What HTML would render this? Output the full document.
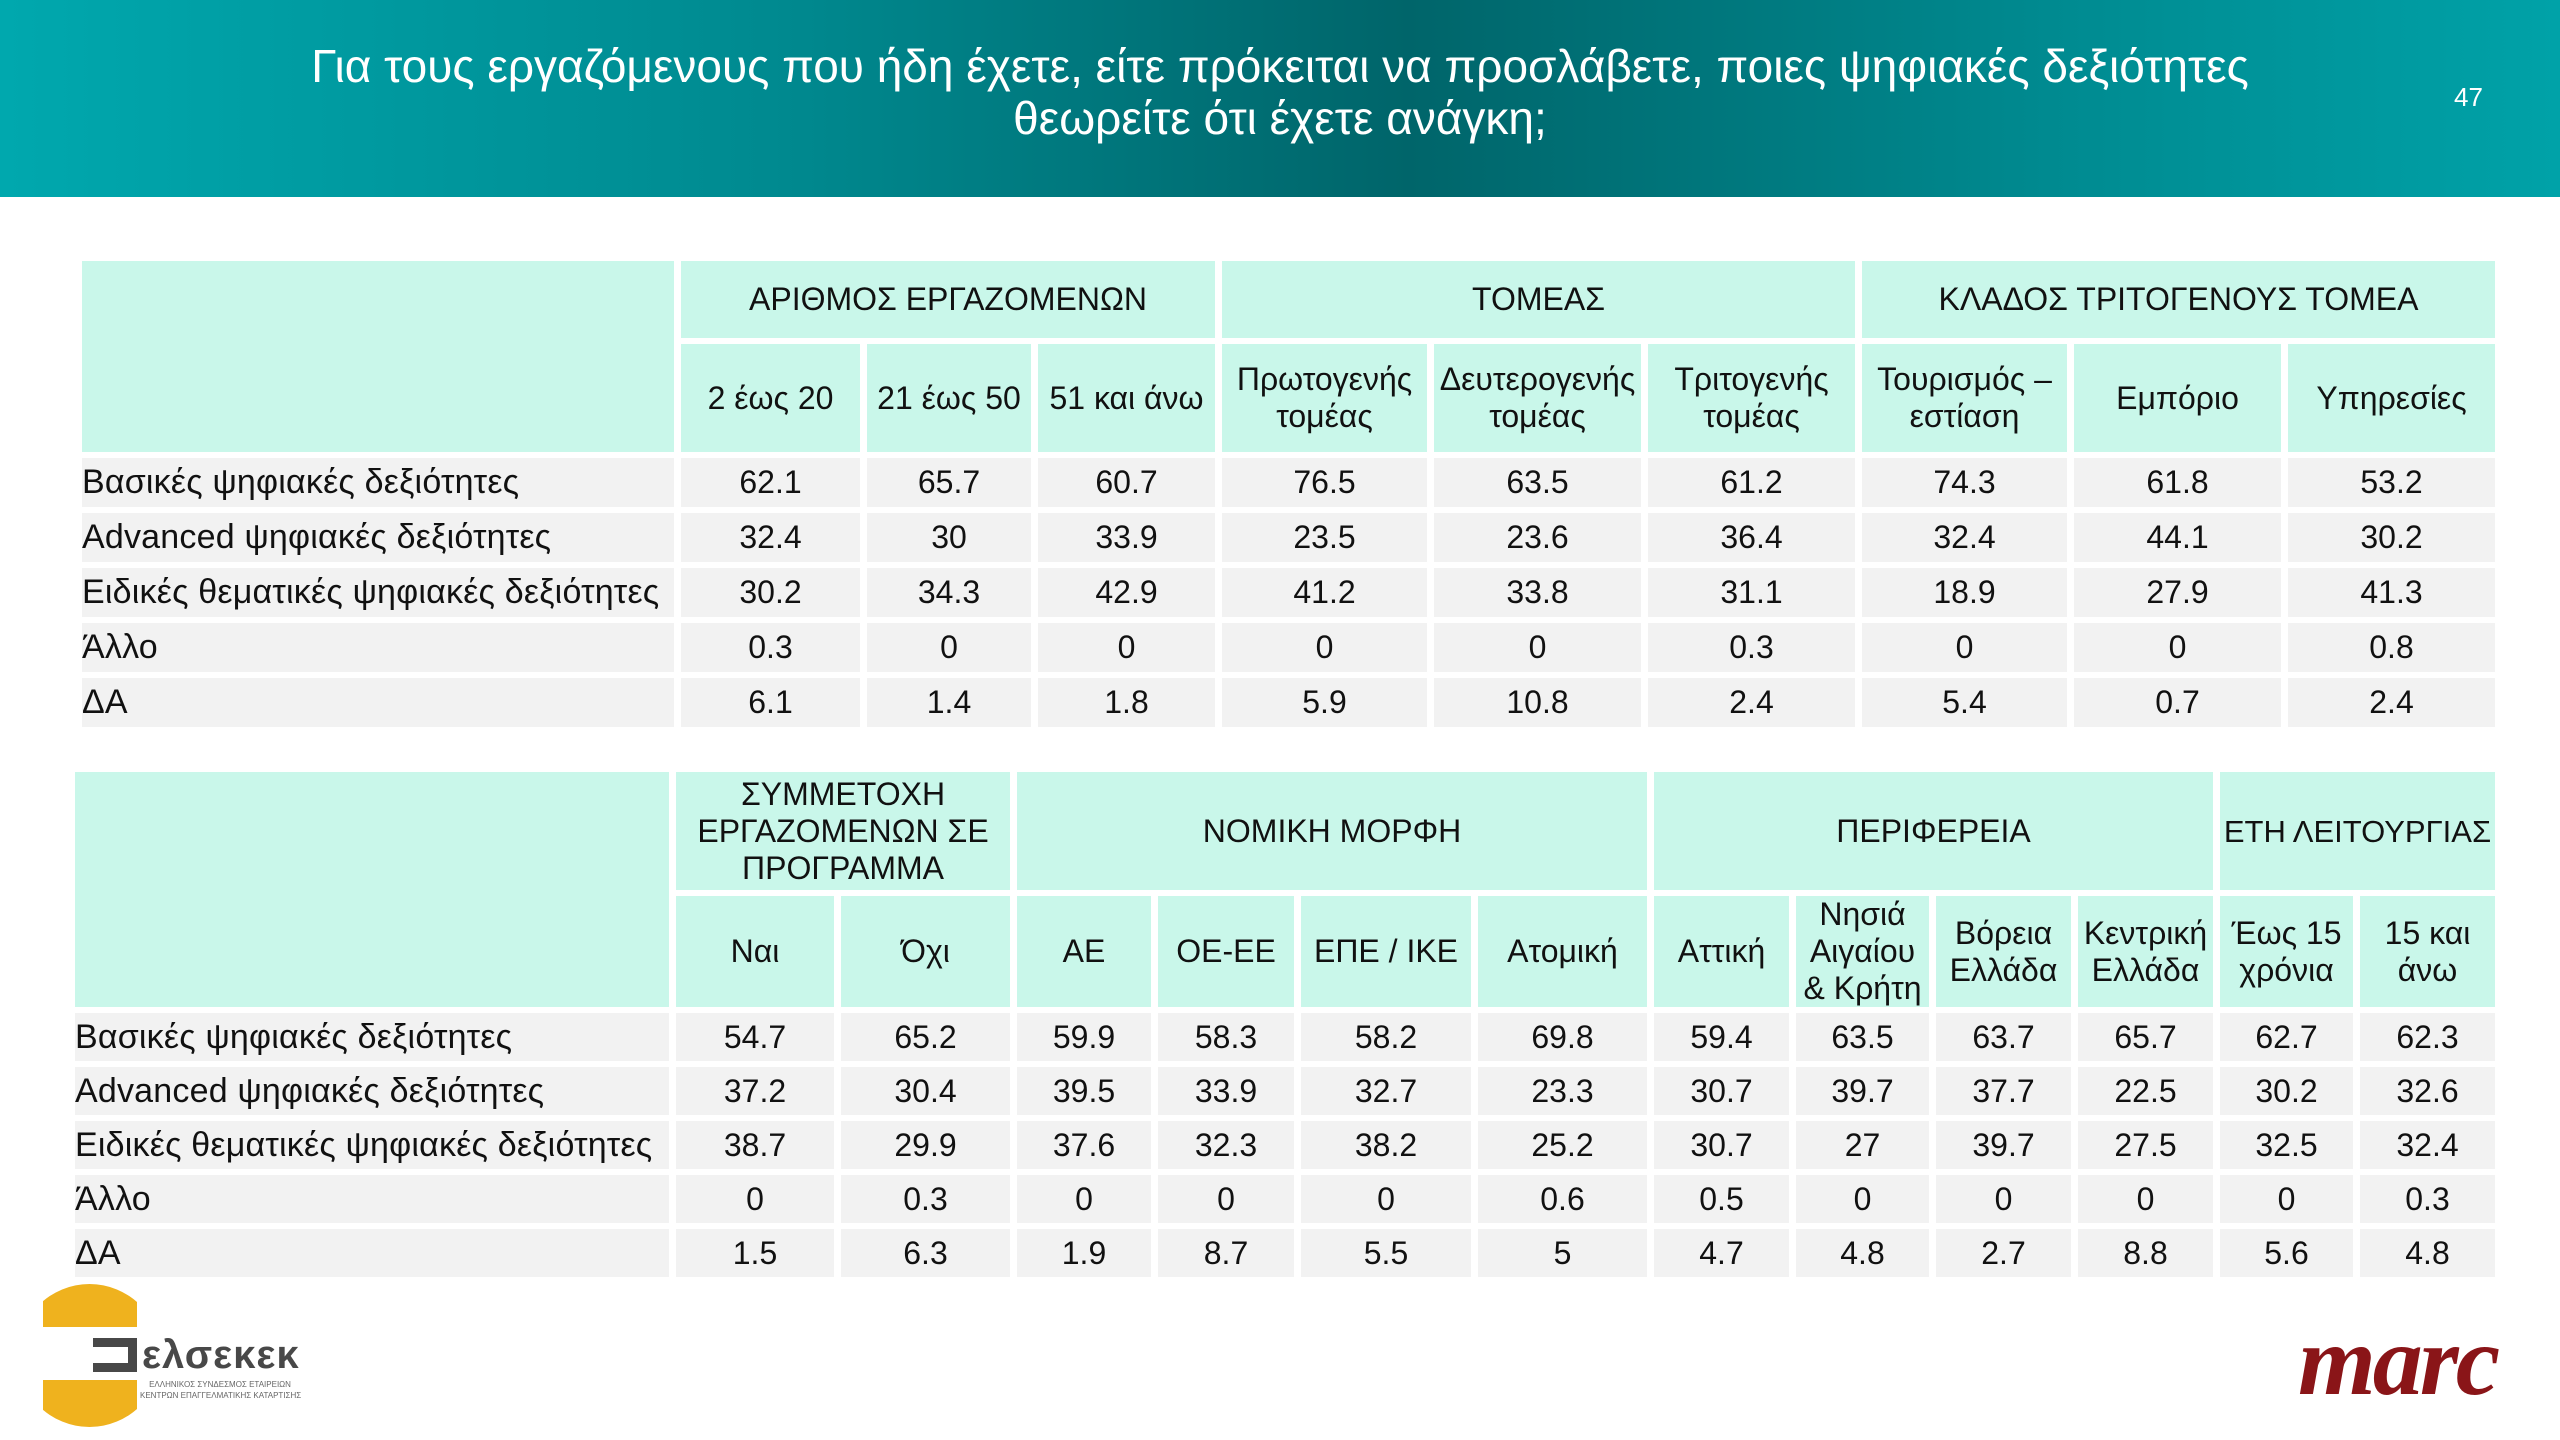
<!DOCTYPE html>
<html><head><meta charset="utf-8"><style>
*{margin:0;padding:0;box-sizing:border-box}
body{width:2560px;height:1440px;background:#fff;position:relative;overflow:hidden;font-family:"Liberation Sans","DejaVu Sans",sans-serif;color:#111}
.hdr{position:absolute;left:0;top:0;width:2560px;height:197px;background:linear-gradient(90deg,#00a8ae 0%,#008a90 30%,#00656a 55%,#008a90 80%,#00a2a8 100%)}
.title{position:absolute;left:100px;width:2360px;top:40px;text-align:center;color:#fff;font-size:46px;line-height:52px}
.pg{position:absolute;left:2454px;top:82px;color:#fff;font-size:26px}
table{position:absolute;border-collapse:separate;table-layout:fixed}
td{text-align:center;vertical-align:middle;font-size:32px;overflow:hidden;white-space:nowrap}
td.l{text-align:left;padding-left:0;font-size:34px;letter-spacing:0.2px}
.h td{background:#c9f7ea;font-size:32px;line-height:37px;white-space:normal}
.d td{background:#f2f2f2}
#t1{left:75px;top:255px;border-spacing:7px 6px}
#t2{left:68px;top:766px;border-spacing:7px 6px}
</style></head><body>
<div class="hdr"></div>
<div class="title">Για τους εργαζόμενους που ήδη έχετε, είτε πρόκειται να προσλάβετε, ποιες ψηφιακές δεξιότητες<br>θεωρείτε ότι έχετε ανάγκη;</div>
<div class="pg">47</div>

<table id="t1">
<colgroup><col style="width:592px"><col style="width:179px"><col style="width:164px"><col style="width:177px"><col style="width:205px"><col style="width:207px"><col style="width:207px"><col style="width:205px"><col style="width:207px"><col style="width:207px"></colgroup>
<tr class="h" style="height:77px"><td rowspan="2"></td><td colspan="3">ΑΡΙΘΜΟΣ ΕΡΓΑΖΟΜΕΝΩΝ</td><td colspan="3">ΤΟΜΕΑΣ</td><td colspan="3">ΚΛΑΔΟΣ ΤΡΙΤΟΓΕΝΟΥΣ ΤΟΜΕΑ</td></tr>
<tr class="h" style="height:108px"><td>2 έως 20</td><td>21 έως 50</td><td>51 και άνω</td><td>Πρωτογενής τομέας</td><td>Δευτερογενής τομέας</td><td>Τριτογενής τομέας</td><td>Τουρισμός – εστίαση</td><td>Εμπόριο</td><td>Υπηρεσίες</td></tr>
<tr class="d" style="height:49px"><td class="l">Βασικές ψηφιακές δεξιότητες</td><td>62.1</td><td>65.7</td><td>60.7</td><td>76.5</td><td>63.5</td><td>61.2</td><td>74.3</td><td>61.8</td><td>53.2</td></tr>
<tr class="d" style="height:49px"><td class="l">Advanced ψηφιακές δεξιότητες</td><td>32.4</td><td>30</td><td>33.9</td><td>23.5</td><td>23.6</td><td>36.4</td><td>32.4</td><td>44.1</td><td>30.2</td></tr>
<tr class="d" style="height:49px"><td class="l">Ειδικές θεματικές ψηφιακές δεξιότητες</td><td>30.2</td><td>34.3</td><td>42.9</td><td>41.2</td><td>33.8</td><td>31.1</td><td>18.9</td><td>27.9</td><td>41.3</td></tr>
<tr class="d" style="height:49px"><td class="l">Άλλο</td><td>0.3</td><td>0</td><td>0</td><td>0</td><td>0</td><td>0.3</td><td>0</td><td>0</td><td>0.8</td></tr>
<tr class="d" style="height:49px"><td class="l">ΔΑ</td><td>6.1</td><td>1.4</td><td>1.8</td><td>5.9</td><td>10.8</td><td>2.4</td><td>5.4</td><td>0.7</td><td>2.4</td></tr>
</table>

<table id="t2">
<colgroup><col style="width:594px"><col style="width:158px"><col style="width:169px"><col style="width:134px"><col style="width:136px"><col style="width:170px"><col style="width:169px"><col style="width:135px"><col style="width:133px"><col style="width:135px"><col style="width:135px"><col style="width:133px"><col style="width:135px"></colgroup>
<tr class="h" style="height:118px"><td rowspan="2"></td><td colspan="2">ΣΥΜΜΕΤΟΧΗ ΕΡΓΑΖΟΜΕΝΩΝ ΣΕ ΠΡΟΓΡΑΜΜΑ</td><td colspan="4">ΝΟΜΙΚΗ ΜΟΡΦΗ</td><td colspan="4">ΠΕΡΙΦΕΡΕΙΑ</td><td colspan="2" style="white-space:nowrap;font-size:31px">ΕΤΗ ΛΕΙΤΟΥΡΓΙΑΣ</td></tr>
<tr class="h" style="height:107px"><td>Ναι</td><td>Όχι</td><td>ΑΕ</td><td>ΟΕ-ΕΕ</td><td>ΕΠΕ / ΙΚΕ</td><td>Ατομική</td><td>Αττική</td><td>Νησιά Αιγαίου &amp; Κρήτη</td><td>Βόρεια Ελλάδα</td><td>Κεντρική Ελλάδα</td><td>Έως 15 χρόνια</td><td>15 και άνω</td></tr>
<tr class="d" style="height:48px"><td class="l">Βασικές ψηφιακές δεξιότητες</td><td>54.7</td><td>65.2</td><td>59.9</td><td>58.3</td><td>58.2</td><td>69.8</td><td>59.4</td><td>63.5</td><td>63.7</td><td>65.7</td><td>62.7</td><td>62.3</td></tr>
<tr class="d" style="height:48px"><td class="l">Advanced ψηφιακές δεξιότητες</td><td>37.2</td><td>30.4</td><td>39.5</td><td>33.9</td><td>32.7</td><td>23.3</td><td>30.7</td><td>39.7</td><td>37.7</td><td>22.5</td><td>30.2</td><td>32.6</td></tr>
<tr class="d" style="height:48px"><td class="l">Ειδικές θεματικές ψηφιακές δεξιότητες</td><td>38.7</td><td>29.9</td><td>37.6</td><td>32.3</td><td>38.2</td><td>25.2</td><td>30.7</td><td>27</td><td>39.7</td><td>27.5</td><td>32.5</td><td>32.4</td></tr>
<tr class="d" style="height:48px"><td class="l">Άλλο</td><td>0</td><td>0.3</td><td>0</td><td>0</td><td>0</td><td>0.6</td><td>0.5</td><td>0</td><td>0</td><td>0</td><td>0</td><td>0.3</td></tr>
<tr class="d" style="height:48px"><td class="l">ΔΑ</td><td>1.5</td><td>6.3</td><td>1.9</td><td>8.7</td><td>5.5</td><td>5</td><td>4.7</td><td>4.8</td><td>2.7</td><td>8.8</td><td>5.6</td><td>4.8</td></tr>
</table>

<!-- ELSEKEK logo -->
<div style="position:absolute;left:43px;top:1284px;width:94px;height:143px;overflow:hidden">
  <div style="position:absolute;left:-25px;top:0;width:143px;height:143px;border-radius:50%;background:#efb21e"></div>
  <div style="position:absolute;left:0;top:43px;width:94px;height:53px;background:#fff"></div>
</div>
<div style="position:absolute;left:93px;top:1338px;width:44px;height:34px;border:9px solid #484848;border-left:none;background:#fff"></div>
<div style="position:absolute;left:142px;top:1333px;font-size:40px;font-weight:bold;color:#484848;letter-spacing:1px">ελσεκεκ</div>
<div style="position:absolute;left:140px;top:1379px;font-size:8px;color:#666;line-height:11px;text-align:center;width:160px;white-space:nowrap">ΕΛΛΗΝΙΚΟΣ ΣΥΝΔΕΣΜΟΣ ΕΤΑΙΡΕΙΩΝ<br>ΚΕΝΤΡΩΝ ΕΠΑΓΓΕΛΜΑΤΙΚΗΣ ΚΑΤΑΡΤΙΣΗΣ</div>

<!-- MARC logo -->
<div style="position:absolute;left:2298px;top:1306px;font-family:'Liberation Serif',serif;font-style:italic;font-weight:bold;font-size:100px;color:#8a1518;letter-spacing:-3px;line-height:110px">marc</div>
</body></html>
